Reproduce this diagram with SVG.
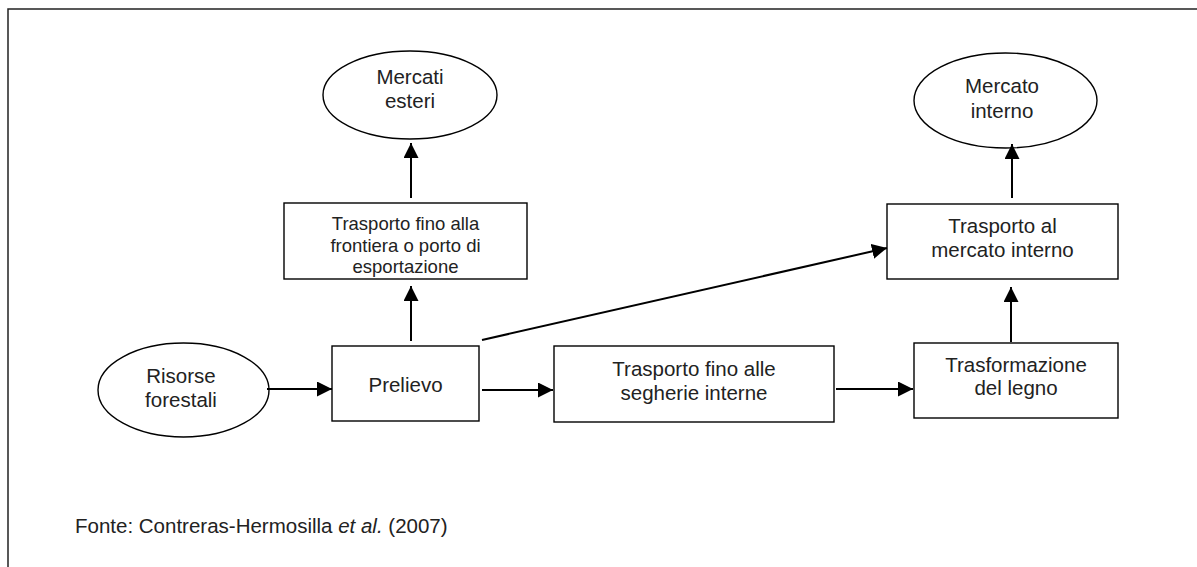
<svg xmlns="http://www.w3.org/2000/svg" width="1197" height="567" viewBox="0 0 1197 567">
  <defs>
    <marker id="ah" markerUnits="userSpaceOnUse" markerWidth="16" markerHeight="16" refX="15" refY="7.5" orient="auto">
      <path d="M0,0 L15,7.5 L0,15 Z" fill="#000"/>
    </marker>
    <style>
      .shape { fill: #fff; stroke: #000; stroke-width: 1.4; }
      .t { font-family: "Liberation Sans", Arial, sans-serif; font-size: 20.5px; fill: #222; text-anchor: middle; }
      .ts { font-family: "Liberation Sans", Arial, sans-serif; font-size: 18.5px; fill: #222; text-anchor: middle; }
      .conn { stroke: #000; stroke-width: 2; fill: none; marker-end: url(#ah); }
      .frame { stroke: #222; stroke-width: 1.5; fill: none; }
    </style>
  </defs>
  <rect width="1197" height="567" fill="#fff"/>
  <path class="frame" d="M8,567 L8,9 L1197,9"/>

  <g id="mercati-esteri">
    <ellipse class="shape" cx="410" cy="95" rx="87" ry="44"/>
    <text class="t" x="410" y="84">Mercati</text>
    <text class="t" x="410" y="108">esteri</text>
  </g>
  <g id="trasporto-frontiera">
    <rect class="shape" x="284" y="203" width="243" height="76"/>
    <text class="ts" x="405.5" y="230">Trasporto fino alla</text>
    <text class="ts" x="405.5" y="251.5">frontiera o porto di</text>
    <text class="ts" x="405.5" y="272.5">esportazione</text>
  </g>
  <g id="risorse-forestali">
    <ellipse class="shape" cx="183.5" cy="390" rx="85.5" ry="47"/>
    <text class="t" x="181" y="383">Risorse</text>
    <text class="t" x="181" y="407">forestali</text>
  </g>
  <g id="prelievo">
    <rect class="shape" x="332" y="346" width="147" height="75"/>
    <text class="t" x="405.5" y="392">Prelievo</text>
  </g>
  <g id="trasporto-segherie">
    <rect class="shape" x="554" y="346" width="280" height="76"/>
    <text class="t" x="694" y="376">Trasporto fino alle</text>
    <text class="t" x="694" y="400">segherie interne</text>
  </g>
  <g id="trasformazione">
    <rect class="shape" x="914" y="343" width="204" height="75"/>
    <text class="t" x="1016" y="372">Trasformazione</text>
    <text class="t" x="1016" y="395">del legno</text>
  </g>
  <g id="trasporto-mercato-interno">
    <rect class="shape" x="887" y="204" width="231" height="75"/>
    <text class="t" x="1002.5" y="233">Trasporto al</text>
    <text class="t" x="1002.5" y="257">mercato interno</text>
  </g>
  <g id="mercato-interno">
    <ellipse class="shape" cx="1005.5" cy="100.5" rx="91.5" ry="47.5"/>
    <text class="t" x="1002" y="93">Mercato</text>
    <text class="t" x="1002" y="118">interno</text>
  </g>

  <g id="connectors">
    <line class="conn" x1="411" y1="198" x2="411" y2="143"/>
    <line class="conn" x1="411" y1="341" x2="411" y2="286"/>
    <line class="conn" x1="267" y1="389" x2="332" y2="389"/>
    <line class="conn" x1="482" y1="390" x2="553" y2="390"/>
    <line class="conn" x1="836" y1="389" x2="913" y2="389"/>
    <line class="conn" x1="1011" y1="342" x2="1011" y2="287"/>
    <line class="conn" x1="1012" y1="198" x2="1012" y2="144"/>
    <line class="conn" x1="482" y1="340" x2="887" y2="248"/>
  </g>

  <text x="75" y="533" font-family="'Liberation Sans', Arial, sans-serif" font-size="20.5" fill="#222">Fonte: Contreras-Hermosilla <tspan font-style="italic">et al.</tspan> (2007)</text>
</svg>
